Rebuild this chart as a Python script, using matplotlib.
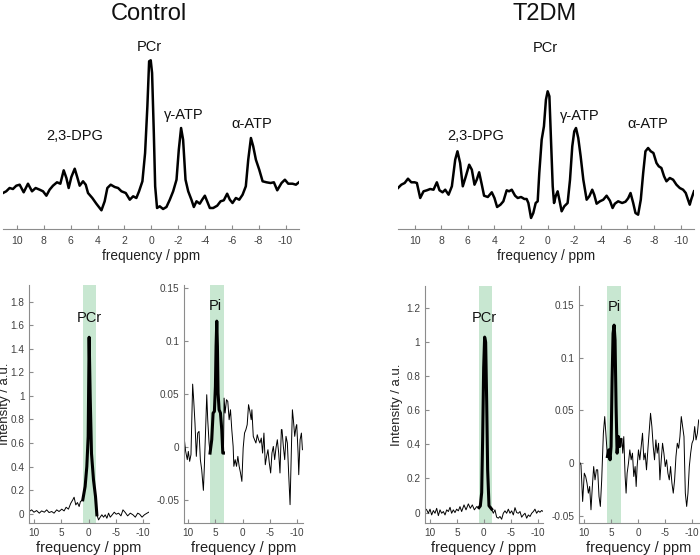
import matplotlib
matplotlib.use('Agg')
from matplotlib import pyplot as plt
from matplotlib.ticker import FuncFormatter

plt.rcParams['font.family'] = ['Liberation Sans', 'DejaVu Sans']

# ---- full spectra (top row), frequency in ppm, intensity in a.u. ----
ctrl_ppm = [11.04, 10.80, 10.55, 10.30, 10.05, 9.80, 9.50, 9.18, 8.88, 8.61, 8.31, 8.06, 7.81,
            7.57, 7.32, 7.02, 6.77, 6.52, 6.32, 6.15, 5.95, 5.70, 5.53, 5.33, 5.08, 4.88, 4.71,
            4.39, 4.09, 3.71, 3.47, 3.27, 3.02, 2.72, 2.47, 2.22, 1.90, 1.60, 1.35, 1.11, 0.91,
            0.66, 0.46, 0.29, 0.16, 0.04, -0.06, -0.19, -0.29, -0.43, -0.63, -0.88, -1.13,
            -1.38, -1.63, -1.88, -2.05, -2.22, -2.37, -2.55, -2.75, -2.99, -3.17, -3.37, -3.61,
            -3.79, -3.99, -4.16, -4.36, -4.61, -4.91, -5.16, -5.40, -5.65, -5.85, -6.05, -6.30,
            -6.55, -6.80, -7.04, -7.22, -7.42, -7.59, -7.79, -8.04, -8.29, -8.58, -8.88, -9.13,
            -9.38, -9.70, -9.95, -10.20, -10.52, -10.77, -10.99]
ctrl_int = [36.0, 37.7, 41.0, 40.0, 43.3, 44.3, 36.7, 45.3, 37.7, 41.0, 39.3, 37.7, 33.3,
            39.3, 43.3, 46.7, 45.3, 58.7, 51.0, 41.0, 52.0, 60.3, 52.7, 43.3, 47.7, 44.3, 36.0,
            31.0, 25.3, 18.7, 27.7, 41.0, 44.3, 42.0, 41.0, 37.7, 36.0, 29.3, 32.7, 31.0, 37.7,
            47.7, 76.0, 122.7, 167.7, 168.7, 156.0, 96.0, 42.7, 21.0, 22.7, 20.0, 22.0,
            29.3, 37.7, 49.3, 79.3, 101.0, 89.3, 49.3, 37.7, 29.3, 22.0, 27.7, 25.3,
            29.3, 33.3, 27.7, 21.0, 21.0, 23.3, 27.7, 28.7, 35.3, 29.3, 26.0, 31.0,
            29.3, 34.3, 42.7, 69.3, 91.0, 82.7, 69.3, 59.3, 47.7, 46.7, 46.0, 46.7,
            38.7, 46.0, 49.3, 45.3, 45.3, 44.3, 46.7]

t2dm_ppm = [11.25, 11.00, 10.75, 10.50, 10.25, 10.00, 9.83, 9.58, 9.33, 9.08, 8.83, 8.58, 8.33,
            8.13, 7.90, 7.70, 7.45, 7.20, 6.95, 6.78, 6.58, 6.38, 6.15, 5.90, 5.70, 5.50, 5.33,
            5.15, 4.95, 4.78, 4.50, 4.20, 4.00, 3.80, 3.55, 3.33, 3.08, 2.90, 2.70, 2.45, 2.25,
            2.00, 1.75, 1.58, 1.45, 1.25, 1.08, 0.90, 0.75, 0.63, 0.45, 0.28, 0.13, 0.00, -0.13,
            -0.25, -0.38, -0.48, -0.60, -0.75, -0.88, -1.05, -1.25, -1.50, -1.68, -1.85, -2.00,
            -2.13, -2.30, -2.48, -2.68, -2.93, -3.13, -3.35, -3.50, -3.68, -3.93, -4.18, -4.43,
            -4.68, -4.88, -5.05, -5.30, -5.60, -5.85, -6.05, -6.23, -6.43, -6.60, -6.80, -7.00,
            -7.18, -7.35, -7.55, -7.75, -7.95, -8.18, -8.35, -8.55, -8.75, -8.93, -9.18, -9.43,
            -9.68, -9.93, -10.18, -10.38, -10.55, -10.68, -10.80, -11.00]
t2dm_int = [41.0, 44.3, 46.0, 50.3, 46.7, 46.7, 46.0, 31.0, 37.7, 38.7, 40.0, 39.3, 46.7,
            38.7, 36.7, 39.3, 34.3, 42.7, 69.3, 77.7, 66.0, 42.7, 52.7, 64.3, 59.3, 44.3, 49.3,
            56.7, 44.3, 33.3, 32.0, 36.7, 31.0, 22.0, 24.3, 27.7, 38.7, 37.7, 39.3, 33.3, 31.0,
            32.0, 30.0, 30.0, 26.0, 11.0, 16.0, 26.0, 27.7, 56.0, 89.3, 102.7, 129.3, 137.7, 132.7,
            89.3, 42.7, 26.0, 32.7, 37.7, 29.3, 17.7, 22.7, 26.0, 49.3, 82.7, 97.7,
            101.0, 91.0, 72.7, 49.3, 29.3, 32.7, 39.3, 34.3, 25.3, 27.7, 29.3, 33.3,
            28.3, 21.0, 25.3, 27.7, 26.0, 27.3, 30.7, 36.0, 26.0, 16.0, 14.3, 29.3,
            56.0, 77.7, 81.0, 77.7, 76.0, 66.0, 62.7, 61.0, 52.7, 47.7, 51.0, 49.3,
            44.3, 41.0, 39.3, 36.0, 29.3, 24.3, 30.0, 37.7]

peak_names = ['PCr', 'γ-ATP', 'α-ATP', '2,3-DPG']
ctrl_label_pos = [(0.16, 181.7), (-2.45, 114.0), (-7.5, 105.0), (5.7, 92.7)]
t2dm_label_pos = [(0.2, 181.0), (-2.38, 113.3), (-7.55, 105.0), (5.4, 92.7)]

# ---- Control, PCr window ----
c_pcr_ppm_l = [10.92, 10.49, 10.06, 9.57, 9.08, 8.65, 8.15, 7.72, 7.29, 6.80, 6.37, 5.88, 5.45,
               4.95, 4.52, 4.15, 3.72, 3.29, 2.92, 2.68, 2.37, 2.06, 1.75, 1.51, 1.26, 1.08]
c_pcr_int_l = [0.020, 0.034, 0.014, 0.028, 0.006, 0.025, 0.014, 0.034, 0.011, 0.020, 0.006, 0.034,
               0.020, 0.040, 0.025, 0.056, 0.040, 0.090, 0.119, 0.141, 0.076, 0.096, 0.062, 0.105,
               0.113, 0.119]
c_pcr_ppm_fit = [1.08, 0.65, 0.34, 0.09, -0.09, -0.28, -0.52, -0.89, -1.26, -1.51]
c_pcr_int_fit = [0.119, 0.232, 0.401, 0.655, 1.497, 1.0, 0.512, 0.288, 0.147, -0.008]
c_pcr_ppm_r = [-1.51, -1.82, -2.12, -2.43, -2.74, -3.05, -3.35, -3.66, -3.97, -4.28, -4.71, -5.08,
               -5.51, -5.94, -6.31, -6.74, -7.17, -7.66, -8.15, -8.58, -9.02, -9.38, -9.82,
               -10.25, -10.74, -11.05]
c_pcr_int_r = [-0.008, -0.051, -0.028, -0.008, -0.028, -0.008, -0.037, 0.006, -0.028, -0.011,
               0.014, -0.003, 0.006, -0.017, 0.034, 0.011, -0.017, 0.006, -0.008, -0.028, 0.006,
               -0.003, -0.028, -0.008, 0.006, 0.014]

# ---- Control, Pi window ----
c_pi_ppm_l = [10.74, 10.49, 10.19, 10.00, 9.75, 9.51, 9.20, 9.01, 8.77, 8.52, 8.27, 8.02, 7.78,
              7.53, 7.22, 7.04, 6.79, 6.60, 6.42, 6.17, 5.99]
c_pi_int_l = [0.0075, -0.0041, -0.0119, -0.0041, -0.0135, -0.0072, 0.0594, 0.0447, 0.0226,
              -0.0088, 0.0132, 0.0148, -0.0119, -0.0214, -0.0409, -0.0182, 0.0195, 0.0494,
              0.0258, 0.0038, -0.0057]
c_pi_ppm_fit = [5.99, 5.68, 5.43, 5.19, 5.00, 4.88, 4.75, 4.63, 4.51, 4.32, 4.07, 3.83, 3.64, 3.52]
c_pi_int_fit = [-0.0057, 0.0069, 0.0321, 0.0336, 0.0572, 0.0950, 0.1189, 0.0950, 0.0509, 0.0352,
                0.0321, 0.0164, -0.0057, -0.0057]
c_pi_ppm_r = [3.52, 3.40, 3.21, 2.96, 2.72, 2.47, 2.22, 1.98, 1.73, 1.60, 1.36, 1.11, 0.86, 0.62,
              0.37, 0.12, -0.12, -0.37, -0.62, -0.86, -1.11, -1.36, -1.60, -1.73, -1.98, -2.22,
              -2.47, -2.72, -2.96, -3.21, -3.46, -3.70, -3.95, -4.20, -4.44, -4.69, -4.94, -5.19,
              -5.43, -5.68, -5.93, -6.17, -6.42, -6.67, -6.91, -7.16, -7.28, -7.53, -7.78, -8.02,
              -8.27, -8.52, -8.77, -9.01, -9.20, -9.38, -9.63, -9.88, -10.00, -10.25, -10.37,
              -10.62, -10.86, -11.05]
c_pi_int_r = [-0.0057, 0.0462, 0.0321, 0.0447, 0.0431, 0.0258, 0.0352, 0.0164, 0.0006, -0.0182,
              -0.0119, -0.0182, -0.0088, -0.0182, -0.0245, -0.0324, -0.0009, 0.0132, 0.0164,
              0.0211, 0.0400, 0.0337, 0.0258, 0.0352, 0.0101, 0.0069, 0.0038, 0.0116, 0.0069,
              0.0038, 0.0085, -0.0057, 0.0132, -0.0167, -0.0088, -0.0025, -0.0151, -0.0245,
              -0.0057, 0.0006, -0.0119, -0.0009, 0.0069, -0.0057, -0.0245, 0.0164, 0.0164,
              0.0006, -0.0119, 0.0101, 0.0038, -0.0261, -0.0544, -0.0025, 0.0352, 0.0258,
              0.0101, 0.0195, 0.0211, -0.0057, -0.0261, 0.0069, 0.0132, -0.0025]

# ---- T2DM, PCr window ----
t_pcr_ppm_l = [10.93, 10.62, 10.31, 10.00, 9.69, 9.38, 9.07, 8.76, 8.45, 8.14, 7.83, 7.52, 7.21,
               6.90, 6.59, 6.28, 5.98, 5.67, 5.36, 5.05, 4.74, 4.43, 4.12, 3.68, 3.31, 2.88, 2.51,
               2.14, 1.76, 1.33, 0.90]
t_pcr_int_l = [0.025, 0.016, -0.004, 0.020, -0.014, 0.012, -0.004, 0.025, -0.018, 0.016, -0.004,
               0.006, -0.014, 0.016, 0.006, 0.031, -0.004, 0.016, 0.0, 0.020, 0.010, 0.035, 0.006,
               0.045, 0.016, 0.051, 0.025, 0.045, 0.016, 0.035, 0.029]
t_pcr_ppm_fit = [0.90, 0.65, 0.40, 0.22, 0.03, -0.15, -0.34, -0.53, -0.71, -0.96, -1.21, -1.46]
t_pcr_int_fit = [0.029, 0.039, 0.117, 0.43, 0.85, 1.03, 1.0, 0.65, 0.25, 0.04, 0.03, 0.020]
t_pcr_ppm_r = [-1.46, -1.76, -2.07, -2.38, -2.69, -3.00, -3.31, -3.62, -3.93, -4.24, -4.55, -4.86,
               -5.17, -5.48, -5.79, -6.10, -6.41, -6.72, -7.03, -7.34, -7.65, -7.96, -8.27, -8.58,
               -8.89, -9.20, -9.50, -9.81, -10.12, -10.43, -10.74, -11.05]
t_pcr_int_r = [0.020, -0.004, 0.016, -0.027, -0.033, -0.023, -0.039, -0.004, 0.010, -0.004, 0.020,
               -0.004, 0.010, -0.014, 0.029, 0.0, -0.004, 0.006, -0.027, -0.014, -0.004, -0.033,
               -0.014, -0.023, -0.004, 0.006, 0.020, -0.004, 0.010, 0.002, 0.012, 0.006]

# ---- T2DM, Pi window ----
t_pi_ppm_l = [10.93, 10.62, 10.31, 10.00, 9.75, 9.50, 9.25, 9.01, 8.76, 8.51, 8.26, 8.01, 7.76,
              7.52, 7.27, 7.02, 6.77, 6.46, 6.21, 5.96, 5.71]
t_pi_int_l = [0.0016, -0.0016, -0.0363, -0.0095, -0.0126, -0.0189, -0.0284, -0.0221, -0.0442,
              -0.0221, -0.0032, -0.0158, -0.0063, -0.0063, -0.0315, -0.0410, -0.0158, 0.0284,
              0.0442, 0.0252, 0.0063]
t_pi_ppm_fit = [5.71, 5.47, 5.22, 5.03, 4.84, 4.66, 4.47, 4.29, 4.10, 3.91, 3.66, 3.42, 3.23]
t_pi_int_fit = [0.0063, 0.0126, 0.0032, 0.0158, 0.0789, 0.1230, 0.1309, 0.1167, 0.0536, 0.0095,
                0.0252, 0.0158, 0.0221]
t_pi_ppm_r = [3.23, 3.04, 2.86, 2.67, 2.42, 2.24, 2.05, 1.80, 1.55, 1.30, 1.06, 0.81, 0.56, 0.37,
              0.19, -0.06, -0.31, -0.56, -0.81, -1.06, -1.30, -1.55, -1.80, -2.05, -2.30, -2.55,
              -2.80, -3.04, -3.29, -3.54, -3.79, -4.04, -4.29, -4.53, -4.78, -5.03, -5.28, -5.53,
              -5.78, -6.02, -6.27, -6.52, -6.77, -7.02, -7.27, -7.52, -7.76, -8.01, -8.26, -8.51,
              -8.76, -9.01, -9.25, -9.50, -9.75, -10.00, -10.25, -10.50, -10.75, -11.00, -11.24]
t_pi_int_r = [0.0221, 0.0237, 0.0095, 0.0252, -0.0126, -0.0284, -0.0095, 0.0, 0.0126, 0.0032,
              0.0095, -0.0126, -0.0032, -0.0221, -0.0032, 0.0126, 0.0032, 0.0158, 0.0284, 0.0032,
              0.0095, -0.0063, 0.0126, 0.0300, 0.0473, 0.0347, 0.0158, 0.0032, 0.0221, 0.0095,
              0.0189, -0.0158, 0.0032, 0.0189, 0.0095, -0.0032, 0.0032, -0.0095, -0.0158,
              -0.0032, -0.0189, -0.0284, -0.0158, 0.0063, 0.0189, 0.0142, 0.0252, 0.0442,
              0.0347, 0.0252, -0.0284, -0.0410, -0.0284, -0.0032, 0.0095, 0.0189, 0.0221,
              0.0347, 0.0221, 0.0284, 0.0410]

# plot aspects
W, H = 700, 555
band_color = '#c8e7d1'
spine_color = '#8c8c8c'
tick_color = '#404040'
label_color = '#202020'


def rect(left, top, right, bottom):
    # pixel box -> figure fraction
    return [left / W, 1 - bottom / H, (right - left) / W, (bottom - top) / H]


fmt = FuncFormatter(lambda v, p: f'{v:g}')

fig = plt.figure(figsize=(W / 100, H / 100), dpi=100)

# top row: full spectra
tops = [(rect(3, 40, 299, 229), (11.04, -11.0), ctrl_ppm, ctrl_int, ctrl_label_pos, 'Control', 149),
        (rect(398, 40, 694, 229), (11.25, -11.0), t2dm_ppm, t2dm_int, t2dm_label_pos, 'T2DM', 545)]
for box, xl, xs, ys, lpos, title, tx in tops:
    ax = fig.add_axes(box)
    ax.plot(xs, ys, color='black', lw=1.8)
    ax.set_xlim(xl)
    ax.set_ylim(0, 189)
    for name, (px, py) in zip(peak_names, lpos):
        ax.text(px, py, name, ha='center', va='center', fontsize=10.5, color='#111111')
    for s in ['top', 'left', 'right']:
        ax.spines[s].set_visible(False)
    ax.spines['bottom'].set_color(spine_color)
    ax.set_yticks([])
    ax.set_xticks([10, 8, 6, 4, 2, 0, -2, -4, -6, -8, -10])
    ax.xaxis.set_major_formatter(fmt)
    ax.tick_params(axis='x', direction='in', length=3, color=spine_color,
                   labelsize=7.5, labelcolor=tick_color, pad=5)
    ax.set_xlabel('frequency / ppm', fontsize=9.8, color=label_color, labelpad=2)
    fig.text(tx / W, 1 - 14 / H, title, ha='center', va='center', fontsize=17, color='#111111')

# bottom row: PCr and Pi windows
bottoms = [
    (rect(29.3, 285, 149, 523.3), (10.92, -11.1), (-0.08, 1.94), [0, 0.2, 0.4, 0.6, 0.8, 1, 1.2, 1.4, 1.6, 1.8],
     (1.1, -1.4), c_pcr_ppm_l, c_pcr_int_l, c_pcr_ppm_fit, c_pcr_int_fit, c_pcr_ppm_r, c_pcr_int_r,
     'PCr', (-0.15, 1.66), -0.155),
    (rect(184.3, 285, 302.7, 523.3), (10.74, -11.1), (-0.072, 0.153), [-0.05, 0, 0.05, 0.1, 0.15],
     (6.0, 3.5), c_pi_ppm_l, c_pi_int_l, c_pi_ppm_fit, c_pi_int_fit, c_pi_ppm_r, c_pi_int_r,
     'Pi', (4.94, 0.133), None),
    (rect(425, 286, 543.3, 523.3), (10.93, -11.05), (-0.063, 1.33), [0, 0.2, 0.4, 0.6, 0.8, 1, 1.2],
     (0.9, -1.46), t_pcr_ppm_l, t_pcr_int_l, t_pcr_ppm_fit, t_pcr_int_fit, t_pcr_ppm_r, t_pcr_int_r,
     'PCr', (-0.03, 1.14), -0.185),
    (rect(579.3, 286, 699, 523.3), (10.93, -11.3), (-0.057, 0.168), [-0.05, 0, 0.05, 0.1, 0.15],
     (5.72, 3.22), t_pi_ppm_l, t_pi_int_l, t_pi_ppm_fit, t_pi_int_fit, t_pi_ppm_r, t_pi_int_r,
     'Pi', (4.41, 0.148), None),
]
for box, xl, yl, yt, band, xl_, yl_, xf, yf, xr, yr, name, lpos, ylab_x in bottoms:
    ax = fig.add_axes(box)
    ax.axvspan(band[0], band[1], color=band_color, lw=0, zorder=0)
    ax.plot(xl_, yl_, color='black', lw=0.7)
    ax.plot(xr, yr, color='black', lw=0.7)
    ax.plot(xf, yf, color='black', lw=2.2)
    ax.text(lpos[0], lpos[1], name, ha='center', va='center', fontsize=10.5, color='#111111')
    ax.set_xlim(xl)
    ax.set_ylim(yl)
    ax.set_xticks([10, 5, 0, -5, -10])
    ax.set_yticks(yt)
    ax.xaxis.set_major_formatter(fmt)
    ax.yaxis.set_major_formatter(fmt)
    for s in ['top', 'right']:
        ax.spines[s].set_visible(False)
    for s in ['bottom', 'left']:
        ax.spines[s].set_color(spine_color)
    ax.tick_params(direction='in', length=3, color=spine_color, labelsize=7.2,
                   labelcolor=tick_color)
    ax.set_xlabel('frequency / ppm', fontsize=10.5, color=label_color, labelpad=2)
    if ylab_x is not None:
        ax.set_ylabel('Intensity / a.u.', fontsize=9.5, color=label_color)
        ax.yaxis.set_label_coords(ylab_x, 0.5)

fig.savefig('out.png', dpi=100)
